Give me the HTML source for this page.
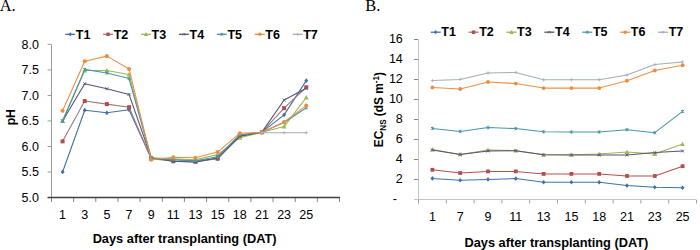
<!DOCTYPE html>
<html><head><meta charset="utf-8"><style>
html,body{margin:0;padding:0;background:#fff;width:700px;height:250px;overflow:hidden}
svg{display:block}
text{font-family:"Liberation Sans", sans-serif;fill:#000}
</style></head><body>
<svg width="700" height="250" viewBox="0 0 700 250">
<rect width="700" height="250" fill="#fff"/>
<path d="M51.5 44.4V202.0" stroke="#9A9A9A" stroke-width="1"/>
<path d="M47.6 197.50H51.0" stroke="#9A9A9A" stroke-width="1"/>
<text x="39" y="201.80" font-size="12.5" text-anchor="end">5.0</text>
<path d="M47.6 171.98H51.0" stroke="#9A9A9A" stroke-width="1"/>
<text x="39" y="176.28" font-size="12.5" text-anchor="end">5.5</text>
<path d="M47.6 146.47H51.0" stroke="#9A9A9A" stroke-width="1"/>
<text x="39" y="150.77" font-size="12.5" text-anchor="end">6.0</text>
<path d="M47.6 120.95H51.0" stroke="#9A9A9A" stroke-width="1"/>
<text x="39" y="125.25" font-size="12.5" text-anchor="end">6.5</text>
<path d="M47.6 95.43H51.0" stroke="#9A9A9A" stroke-width="1"/>
<text x="39" y="99.73" font-size="12.5" text-anchor="end">7.0</text>
<path d="M47.6 69.92H51.0" stroke="#9A9A9A" stroke-width="1"/>
<text x="39" y="74.22" font-size="12.5" text-anchor="end">7.5</text>
<path d="M47.6 44.40H51.0" stroke="#9A9A9A" stroke-width="1"/>
<text x="39" y="48.70" font-size="12.5" text-anchor="end">8.0</text>
<path d="M51.50 197.5V202.0" stroke="#868686" stroke-width="1"/>
<path d="M73.65 197.5V202.0" stroke="#868686" stroke-width="1"/>
<path d="M95.81 197.5V202.0" stroke="#868686" stroke-width="1"/>
<path d="M117.96 197.5V202.0" stroke="#868686" stroke-width="1"/>
<path d="M140.12 197.5V202.0" stroke="#868686" stroke-width="1"/>
<path d="M162.27 197.5V202.0" stroke="#868686" stroke-width="1"/>
<path d="M184.42 197.5V202.0" stroke="#868686" stroke-width="1"/>
<path d="M206.58 197.5V202.0" stroke="#868686" stroke-width="1"/>
<path d="M228.73 197.5V202.0" stroke="#868686" stroke-width="1"/>
<path d="M250.88 197.5V202.0" stroke="#868686" stroke-width="1"/>
<path d="M273.04 197.5V202.0" stroke="#868686" stroke-width="1"/>
<path d="M295.19 197.5V202.0" stroke="#868686" stroke-width="1"/>
<path d="M317.35 197.5V202.0" stroke="#868686" stroke-width="1"/>
<path d="M339.50 197.5V202.0" stroke="#868686" stroke-width="1"/>
<path d="M47.6 197.5H340" stroke="#404040" stroke-width="1.4"/>
<text x="62.58" y="219.3" font-size="12.5" text-anchor="middle">1</text>
<text x="84.73" y="219.3" font-size="12.5" text-anchor="middle">3</text>
<text x="106.88" y="219.3" font-size="12.5" text-anchor="middle">5</text>
<text x="129.04" y="219.3" font-size="12.5" text-anchor="middle">7</text>
<text x="151.19" y="219.3" font-size="12.5" text-anchor="middle">9</text>
<text x="173.35" y="219.3" font-size="12.5" text-anchor="middle">11</text>
<text x="195.50" y="219.3" font-size="12.5" text-anchor="middle">13</text>
<text x="217.65" y="219.3" font-size="12.5" text-anchor="middle">15</text>
<text x="239.81" y="219.3" font-size="12.5" text-anchor="middle">18</text>
<text x="261.96" y="219.3" font-size="12.5" text-anchor="middle">21</text>
<text x="284.12" y="219.3" font-size="12.5" text-anchor="middle">23</text>
<text x="306.27" y="219.3" font-size="12.5" text-anchor="middle">25</text>
<path d="M62.58 171.98L84.73 110.23L106.88 112.78L129.04 109.72L151.19 158.20L173.35 159.74L195.50 160.76L217.65 158.71L239.81 136.26L261.96 132.18L284.12 114.83L306.27 80.63" stroke="#4072A8" stroke-width="1.1" fill="none" stroke-linejoin="round"/>
<path d="M62.58 169.60L64.56 171.98L62.58 174.36L60.60 171.98Z" fill="#3F70A8"/>
<path d="M84.73 107.85L86.71 110.23L84.73 112.61L82.75 110.23Z" fill="#3F70A8"/>
<path d="M106.88 110.40L108.86 112.78L106.88 115.16L104.90 112.78Z" fill="#3F70A8"/>
<path d="M129.04 107.34L131.02 109.72L129.04 112.10L127.06 109.72Z" fill="#3F70A8"/>
<path d="M151.19 155.82L153.17 158.20L151.19 160.58L149.21 158.20Z" fill="#3F70A8"/>
<path d="M173.35 157.36L175.33 159.74L173.35 162.12L171.37 159.74Z" fill="#3F70A8"/>
<path d="M195.50 158.38L197.48 160.76L195.50 163.14L193.52 160.76Z" fill="#3F70A8"/>
<path d="M217.65 156.33L219.63 158.71L217.65 161.09L215.67 158.71Z" fill="#3F70A8"/>
<path d="M239.81 133.88L241.79 136.26L239.81 138.64L237.83 136.26Z" fill="#3F70A8"/>
<path d="M261.96 129.80L263.94 132.18L261.96 134.56L259.98 132.18Z" fill="#3F70A8"/>
<path d="M284.12 112.45L286.10 114.83L284.12 117.21L282.14 114.83Z" fill="#3F70A8"/>
<path d="M306.27 78.25L308.25 80.63L306.27 83.01L304.29 80.63Z" fill="#3F70A8"/>
<path d="M62.58 141.36L84.73 101.05L106.88 104.11L129.04 107.17L151.19 158.71L173.35 161.27L195.50 161.78L217.65 158.71L239.81 135.24L261.96 132.18L284.12 108.19L306.27 87.27" stroke="#A07880" stroke-width="1.1" fill="none" stroke-linejoin="round"/>
<rect x="60.58" y="139.36" width="4.00" height="4.00" fill="#B04E4C"/>
<rect x="82.73" y="99.05" width="4.00" height="4.00" fill="#B04E4C"/>
<rect x="104.88" y="102.11" width="4.00" height="4.00" fill="#B04E4C"/>
<rect x="127.04" y="105.17" width="4.00" height="4.00" fill="#B04E4C"/>
<rect x="149.19" y="156.71" width="4.00" height="4.00" fill="#B04E4C"/>
<rect x="171.35" y="159.27" width="4.00" height="4.00" fill="#B04E4C"/>
<rect x="193.50" y="159.78" width="4.00" height="4.00" fill="#B04E4C"/>
<rect x="215.65" y="156.71" width="4.00" height="4.00" fill="#B04E4C"/>
<rect x="237.81" y="133.24" width="4.00" height="4.00" fill="#B04E4C"/>
<rect x="259.96" y="130.18" width="4.00" height="4.00" fill="#B04E4C"/>
<rect x="282.12" y="106.19" width="4.00" height="4.00" fill="#B04E4C"/>
<rect x="304.27" y="85.27" width="4.00" height="4.00" fill="#B04E4C"/>
<path d="M62.58 120.95L84.73 70.43L106.88 70.43L129.04 74.51L151.19 157.69L173.35 158.71L195.50 159.74L217.65 154.63L239.81 137.79L261.96 132.18L284.12 126.56L306.27 97.47" stroke="#98B954" stroke-width="1.1" fill="none" stroke-linejoin="round"/>
<path d="M62.58 118.45L65.08 122.95L60.08 122.95Z" fill="#9BBB59"/>
<path d="M84.73 67.93L87.23 72.43L82.23 72.43Z" fill="#9BBB59"/>
<path d="M106.88 67.93L109.38 72.43L104.38 72.43Z" fill="#9BBB59"/>
<path d="M129.04 72.01L131.54 76.51L126.54 76.51Z" fill="#9BBB59"/>
<path d="M151.19 155.19L153.69 159.69L148.69 159.69Z" fill="#9BBB59"/>
<path d="M173.35 156.21L175.85 160.71L170.85 160.71Z" fill="#9BBB59"/>
<path d="M195.50 157.24L198.00 161.74L193.00 161.74Z" fill="#9BBB59"/>
<path d="M217.65 152.13L220.15 156.63L215.15 156.63Z" fill="#9BBB59"/>
<path d="M239.81 135.29L242.31 139.79L237.31 139.79Z" fill="#9BBB59"/>
<path d="M261.96 129.68L264.46 134.18L259.46 134.18Z" fill="#9BBB59"/>
<path d="M284.12 124.06L286.62 128.56L281.62 128.56Z" fill="#9BBB59"/>
<path d="M306.27 94.97L308.77 99.47L303.77 99.47Z" fill="#9BBB59"/>
<path d="M62.58 120.95L84.73 83.70L106.88 88.80L129.04 94.41L151.19 157.69L173.35 161.27L195.50 162.29L217.65 157.69L239.81 136.26L261.96 132.18L284.12 100.03L306.27 88.29" stroke="#5A5270" stroke-width="1.1" fill="none" stroke-linejoin="round"/>
<path d="M61.12 119.49L64.04 122.41M64.04 119.49L61.12 122.41" stroke="#625A7A" stroke-width="1" fill="none"/>
<path d="M83.27 82.24L86.19 85.16M86.19 82.24L83.27 85.16" stroke="#625A7A" stroke-width="1" fill="none"/>
<path d="M105.42 87.34L108.34 90.26M108.34 87.34L105.42 90.26" stroke="#625A7A" stroke-width="1" fill="none"/>
<path d="M127.58 92.95L130.50 95.87M130.50 92.95L127.58 95.87" stroke="#625A7A" stroke-width="1" fill="none"/>
<path d="M149.73 156.23L152.65 159.15M152.65 156.23L149.73 159.15" stroke="#625A7A" stroke-width="1" fill="none"/>
<path d="M171.89 159.81L174.81 162.73M174.81 159.81L171.89 162.73" stroke="#625A7A" stroke-width="1" fill="none"/>
<path d="M194.04 160.83L196.96 163.75M196.96 160.83L194.04 163.75" stroke="#625A7A" stroke-width="1" fill="none"/>
<path d="M216.19 156.23L219.11 159.15M219.11 156.23L216.19 159.15" stroke="#625A7A" stroke-width="1" fill="none"/>
<path d="M238.35 134.80L241.27 137.72M241.27 134.80L238.35 137.72" stroke="#625A7A" stroke-width="1" fill="none"/>
<path d="M260.50 130.72L263.42 133.64M263.42 130.72L260.50 133.64" stroke="#625A7A" stroke-width="1" fill="none"/>
<path d="M282.66 98.57L285.58 101.49M285.58 98.57L282.66 101.49" stroke="#625A7A" stroke-width="1" fill="none"/>
<path d="M304.81 86.83L307.73 89.75M307.73 86.83L304.81 89.75" stroke="#625A7A" stroke-width="1" fill="none"/>
<path d="M62.58 120.95L84.73 69.41L106.88 72.98L129.04 78.59L151.19 158.20L173.35 159.74L195.50 160.76L217.65 156.67L239.81 134.73L261.96 132.18L284.12 122.48L306.27 107.68" stroke="#4696AB" stroke-width="1.1" fill="none" stroke-linejoin="round"/>
<path d="M61.12 119.49L64.04 122.41M64.04 119.49L61.12 122.41M62.58 119.19V122.71" stroke="#4696AB" stroke-width="1" fill="none"/>
<path d="M83.27 67.95L86.19 70.87M86.19 67.95L83.27 70.87M84.73 67.65V71.17" stroke="#4696AB" stroke-width="1" fill="none"/>
<path d="M105.42 71.52L108.34 74.44M108.34 71.52L105.42 74.44M106.88 71.22V74.74" stroke="#4696AB" stroke-width="1" fill="none"/>
<path d="M127.58 77.13L130.50 80.05M130.50 77.13L127.58 80.05M129.04 76.83V80.35" stroke="#4696AB" stroke-width="1" fill="none"/>
<path d="M149.73 156.74L152.65 159.66M152.65 156.74L149.73 159.66M151.19 156.44V159.96" stroke="#4696AB" stroke-width="1" fill="none"/>
<path d="M171.89 158.28L174.81 161.20M174.81 158.28L171.89 161.20M173.35 157.98V161.50" stroke="#4696AB" stroke-width="1" fill="none"/>
<path d="M194.04 159.30L196.96 162.22M196.96 159.30L194.04 162.22M195.50 159.00V162.52" stroke="#4696AB" stroke-width="1" fill="none"/>
<path d="M216.19 155.21L219.11 158.13M219.11 155.21L216.19 158.13M217.65 154.91V158.43" stroke="#4696AB" stroke-width="1" fill="none"/>
<path d="M238.35 133.27L241.27 136.19M241.27 133.27L238.35 136.19M239.81 132.97V136.49" stroke="#4696AB" stroke-width="1" fill="none"/>
<path d="M260.50 130.72L263.42 133.64M263.42 130.72L260.50 133.64M261.96 130.42V133.94" stroke="#4696AB" stroke-width="1" fill="none"/>
<path d="M282.66 121.02L285.58 123.94M285.58 121.02L282.66 123.94M284.12 120.72V124.24" stroke="#4696AB" stroke-width="1" fill="none"/>
<path d="M304.81 106.22L307.73 109.14M307.73 106.22L304.81 109.14M306.27 105.92V109.44" stroke="#4696AB" stroke-width="1" fill="none"/>
<path d="M62.58 110.74L84.73 61.24L106.88 56.14L129.04 68.90L151.19 159.74L173.35 157.18L195.50 157.69L217.65 152.08L239.81 133.20L261.96 132.18L284.12 121.97L306.27 105.64" stroke="#EE9044" stroke-width="1.1" fill="none" stroke-linejoin="round"/>
<circle cx="62.58" cy="110.74" r="2.02" fill="#EC8D3E"/>
<circle cx="84.73" cy="61.24" r="2.02" fill="#EC8D3E"/>
<circle cx="106.88" cy="56.14" r="2.02" fill="#EC8D3E"/>
<circle cx="129.04" cy="68.90" r="2.02" fill="#EC8D3E"/>
<circle cx="151.19" cy="159.74" r="2.02" fill="#EC8D3E"/>
<circle cx="173.35" cy="157.18" r="2.02" fill="#EC8D3E"/>
<circle cx="195.50" cy="157.69" r="2.02" fill="#EC8D3E"/>
<circle cx="217.65" cy="152.08" r="2.02" fill="#EC8D3E"/>
<circle cx="239.81" cy="133.20" r="2.02" fill="#EC8D3E"/>
<circle cx="261.96" cy="132.18" r="2.02" fill="#EC8D3E"/>
<circle cx="284.12" cy="121.97" r="2.02" fill="#EC8D3E"/>
<circle cx="306.27" cy="105.64" r="2.02" fill="#EC8D3E"/>
<path d="M261.96 132.69L284.12 132.69L306.27 132.69" stroke="#A3ADBC" stroke-width="1.1" fill="none" stroke-linejoin="round"/>
<path d="M260.20 132.69H263.72M261.96 130.93V134.45" stroke="#A3ADBC" stroke-width="0.8" fill="none"/>
<path d="M282.36 132.69H285.88M284.12 130.93V134.45" stroke="#A3ADBC" stroke-width="0.8" fill="none"/>
<path d="M304.51 132.69H308.03M306.27 130.93V134.45" stroke="#A3ADBC" stroke-width="0.8" fill="none"/>
<path d="M65.20 34.3H75.20" stroke="#4072A8" stroke-width="1.3"/>
<path d="M70.20 32.19L71.91 34.30L70.20 36.41L68.49 34.30Z" fill="#3F70A8"/>
<text x="75.80" y="38.6" font-size="12.5" font-weight="bold">T1</text>
<path d="M103.10 34.3H113.10" stroke="#A07880" stroke-width="1.3"/>
<rect x="106.40" y="32.60" width="3.40" height="3.40" fill="#B04E4C"/>
<text x="113.70" y="38.6" font-size="12.5" font-weight="bold">T2</text>
<path d="M141.00 34.3H151.00" stroke="#98B954" stroke-width="1.3"/>
<path d="M146.00 32.10L148.20 36.00L143.80 36.00Z" fill="#9BBB59"/>
<text x="151.60" y="38.6" font-size="12.5" font-weight="bold">T3</text>
<path d="M178.90 34.3H188.90" stroke="#5A5270" stroke-width="1.3"/>
<path d="M182.68 33.08L185.12 35.52M185.12 33.08L182.68 35.52" stroke="#625A7A" stroke-width="1" fill="none"/>
<text x="189.50" y="38.6" font-size="12.5" font-weight="bold">T4</text>
<path d="M216.80 34.3H226.80" stroke="#4696AB" stroke-width="1.3"/>
<path d="M220.58 33.08L223.02 35.52M223.02 33.08L220.58 35.52M221.80 32.78V35.82" stroke="#4696AB" stroke-width="1" fill="none"/>
<text x="227.40" y="38.6" font-size="12.5" font-weight="bold">T5</text>
<path d="M254.70 34.3H264.70" stroke="#EE9044" stroke-width="1.3"/>
<circle cx="259.70" cy="34.30" r="1.75" fill="#EC8D3E"/>
<text x="265.30" y="38.6" font-size="12.5" font-weight="bold">T6</text>
<path d="M292.60 34.3H302.60" stroke="#A3ADBC" stroke-width="1.3"/>
<path d="M296.08 34.30H299.12M297.60 32.78V35.82" stroke="#A3ADBC" stroke-width="0.8" fill="none"/>
<text x="303.20" y="38.6" font-size="12.5" font-weight="bold">T7</text>
<text x="184.6" y="243" font-size="12.8" font-weight="bold" text-anchor="middle">Days after transplanting (DAT)</text>
<text transform="translate(14.8,117.2) rotate(-90)" font-size="12.2" font-weight="bold" text-anchor="middle">pH</text>
<text x="-0.3" y="11.2" style="font-family:'Liberation Serif', serif" font-size="16.5">A.</text>
<path d="M418.5 39.4V203.5" stroke="#C4C4C4" stroke-width="1"/>
<path d="M414 199.50H418.0" stroke="#858585" stroke-width="1"/>
<text x="397" y="203.20" font-size="12.5" text-anchor="end">-</text>
<path d="M414 179.50H418.0" stroke="#858585" stroke-width="1"/>
<text x="402.8" y="183.20" font-size="12.5" text-anchor="end">2</text>
<path d="M414 159.50H418.0" stroke="#858585" stroke-width="1"/>
<text x="402.8" y="163.20" font-size="12.5" text-anchor="end">4</text>
<path d="M414 139.50H418.0" stroke="#858585" stroke-width="1"/>
<text x="402.8" y="143.20" font-size="12.5" text-anchor="end">6</text>
<path d="M414 119.50H418.0" stroke="#858585" stroke-width="1"/>
<text x="402.8" y="123.20" font-size="12.5" text-anchor="end">8</text>
<path d="M414 99.50H418.0" stroke="#858585" stroke-width="1"/>
<text x="402.8" y="103.20" font-size="12.5" text-anchor="end">10</text>
<path d="M414 79.50H418.0" stroke="#858585" stroke-width="1"/>
<text x="402.8" y="83.20" font-size="12.5" text-anchor="end">12</text>
<path d="M414 59.50H418.0" stroke="#858585" stroke-width="1"/>
<text x="402.8" y="63.20" font-size="12.5" text-anchor="end">14</text>
<path d="M414 39.50H418.0" stroke="#858585" stroke-width="1"/>
<text x="402.8" y="43.20" font-size="12.5" text-anchor="end">16</text>
<path d="M418.50 200.0V203.5" stroke="#A0A0A0" stroke-width="1"/>
<path d="M446.30 200.0V203.5" stroke="#A0A0A0" stroke-width="1"/>
<path d="M474.10 200.0V203.5" stroke="#A0A0A0" stroke-width="1"/>
<path d="M501.90 200.0V203.5" stroke="#A0A0A0" stroke-width="1"/>
<path d="M529.70 200.0V203.5" stroke="#A0A0A0" stroke-width="1"/>
<path d="M557.50 200.0V203.5" stroke="#A0A0A0" stroke-width="1"/>
<path d="M585.30 200.0V203.5" stroke="#A0A0A0" stroke-width="1"/>
<path d="M613.10 200.0V203.5" stroke="#A0A0A0" stroke-width="1"/>
<path d="M640.90 200.0V203.5" stroke="#A0A0A0" stroke-width="1"/>
<path d="M668.70 200.0V203.5" stroke="#A0A0A0" stroke-width="1"/>
<path d="M696.50 200.0V203.5" stroke="#A0A0A0" stroke-width="1"/>
<path d="M414 199.5H696.5" stroke="#C4C4C4" stroke-width="1"/>
<text x="432.40" y="220.7" font-size="12.5" text-anchor="middle">1</text>
<text x="460.20" y="220.7" font-size="12.5" text-anchor="middle">7</text>
<text x="488.00" y="220.7" font-size="12.5" text-anchor="middle">9</text>
<text x="515.80" y="220.7" font-size="12.5" text-anchor="middle">11</text>
<text x="543.60" y="220.7" font-size="12.5" text-anchor="middle">13</text>
<text x="571.40" y="220.7" font-size="12.5" text-anchor="middle">15</text>
<text x="599.20" y="220.7" font-size="12.5" text-anchor="middle">18</text>
<text x="627.00" y="220.7" font-size="12.5" text-anchor="middle">21</text>
<text x="654.80" y="220.7" font-size="12.5" text-anchor="middle">23</text>
<text x="682.60" y="220.7" font-size="12.5" text-anchor="middle">25</text>
<path d="M432.40 178.40L460.20 180.20L488.00 179.40L515.80 178.60L543.60 182.30L571.40 182.30L599.20 182.30L627.00 185.60L654.80 187.20L682.60 187.70" stroke="#4072A8" stroke-width="1.05" fill="none" stroke-linejoin="round"/>
<path d="M432.40 176.11L434.29 178.40L432.40 180.69L430.51 178.40Z" fill="#3F70A8"/>
<path d="M460.20 177.91L462.09 180.20L460.20 182.49L458.31 180.20Z" fill="#3F70A8"/>
<path d="M488.00 177.11L489.89 179.40L488.00 181.69L486.11 179.40Z" fill="#3F70A8"/>
<path d="M515.80 176.31L517.69 178.60L515.80 180.89L513.91 178.60Z" fill="#3F70A8"/>
<path d="M543.60 180.01L545.49 182.30L543.60 184.59L541.71 182.30Z" fill="#3F70A8"/>
<path d="M571.40 180.01L573.29 182.30L571.40 184.59L569.51 182.30Z" fill="#3F70A8"/>
<path d="M599.20 180.01L601.09 182.30L599.20 184.59L597.31 182.30Z" fill="#3F70A8"/>
<path d="M627.00 183.31L628.89 185.60L627.00 187.89L625.11 185.60Z" fill="#3F70A8"/>
<path d="M654.80 184.91L656.69 187.20L654.80 189.49L652.91 187.20Z" fill="#3F70A8"/>
<path d="M682.60 185.41L684.49 187.70L682.60 189.99L680.71 187.70Z" fill="#3F70A8"/>
<path d="M432.40 169.80L460.20 173.00L488.00 171.40L515.80 171.40L543.60 173.90L571.40 173.90L599.20 173.90L627.00 176.00L654.80 176.00L682.60 166.20" stroke="#B5504E" stroke-width="1.05" fill="none" stroke-linejoin="round"/>
<rect x="430.50" y="167.90" width="3.80" height="3.80" fill="#B04E4C"/>
<rect x="458.30" y="171.10" width="3.80" height="3.80" fill="#B04E4C"/>
<rect x="486.10" y="169.50" width="3.80" height="3.80" fill="#B04E4C"/>
<rect x="513.90" y="169.50" width="3.80" height="3.80" fill="#B04E4C"/>
<rect x="541.70" y="172.00" width="3.80" height="3.80" fill="#B04E4C"/>
<rect x="569.50" y="172.00" width="3.80" height="3.80" fill="#B04E4C"/>
<rect x="597.30" y="172.00" width="3.80" height="3.80" fill="#B04E4C"/>
<rect x="625.10" y="174.10" width="3.80" height="3.80" fill="#B04E4C"/>
<rect x="652.90" y="174.10" width="3.80" height="3.80" fill="#B04E4C"/>
<rect x="680.70" y="164.30" width="3.80" height="3.80" fill="#B04E4C"/>
<path d="M432.40 149.50L460.20 154.40L488.00 150.00L515.80 150.70L543.60 154.80L571.40 154.80L599.20 154.00L627.00 152.10L654.80 154.00L682.60 144.10" stroke="#98B954" stroke-width="1.05" fill="none" stroke-linejoin="round"/>
<path d="M432.40 147.10L434.80 151.40L430.00 151.40Z" fill="#9BBB59"/>
<path d="M460.20 152.00L462.60 156.30L457.80 156.30Z" fill="#9BBB59"/>
<path d="M488.00 147.60L490.40 151.90L485.60 151.90Z" fill="#9BBB59"/>
<path d="M515.80 148.30L518.20 152.60L513.40 152.60Z" fill="#9BBB59"/>
<path d="M543.60 152.40L546.00 156.70L541.20 156.70Z" fill="#9BBB59"/>
<path d="M571.40 152.40L573.80 156.70L569.00 156.70Z" fill="#9BBB59"/>
<path d="M599.20 151.60L601.60 155.90L596.80 155.90Z" fill="#9BBB59"/>
<path d="M627.00 149.70L629.40 154.00L624.60 154.00Z" fill="#9BBB59"/>
<path d="M654.80 151.60L657.20 155.90L652.40 155.90Z" fill="#9BBB59"/>
<path d="M682.60 141.70L685.00 146.00L680.20 146.00Z" fill="#9BBB59"/>
<path d="M432.40 150.00L460.20 154.40L488.00 151.00L515.80 150.70L543.60 154.80L571.40 154.90L599.20 154.90L627.00 155.00L654.80 152.60L682.60 151.00" stroke="#5A5270" stroke-width="1.05" fill="none" stroke-linejoin="round"/>
<path d="M431.02 148.62L433.78 151.38M433.78 148.62L431.02 151.38" stroke="#625A7A" stroke-width="1" fill="none"/>
<path d="M458.82 153.02L461.58 155.78M461.58 153.02L458.82 155.78" stroke="#625A7A" stroke-width="1" fill="none"/>
<path d="M486.62 149.62L489.38 152.38M489.38 149.62L486.62 152.38" stroke="#625A7A" stroke-width="1" fill="none"/>
<path d="M514.42 149.32L517.18 152.08M517.18 149.32L514.42 152.08" stroke="#625A7A" stroke-width="1" fill="none"/>
<path d="M542.22 153.42L544.98 156.18M544.98 153.42L542.22 156.18" stroke="#625A7A" stroke-width="1" fill="none"/>
<path d="M570.02 153.52L572.78 156.28M572.78 153.52L570.02 156.28" stroke="#625A7A" stroke-width="1" fill="none"/>
<path d="M597.82 153.52L600.58 156.28M600.58 153.52L597.82 156.28" stroke="#625A7A" stroke-width="1" fill="none"/>
<path d="M625.62 153.62L628.38 156.38M628.38 153.62L625.62 156.38" stroke="#625A7A" stroke-width="1" fill="none"/>
<path d="M653.42 151.22L656.18 153.98M656.18 151.22L653.42 153.98" stroke="#625A7A" stroke-width="1" fill="none"/>
<path d="M681.22 149.62L683.98 152.38M683.98 149.62L681.22 152.38" stroke="#625A7A" stroke-width="1" fill="none"/>
<path d="M432.40 128.40L460.20 131.40L488.00 127.60L515.80 128.60L543.60 131.80L571.40 132.00L599.20 132.00L627.00 129.70L654.80 132.70L682.60 111.40" stroke="#4696AB" stroke-width="1.05" fill="none" stroke-linejoin="round"/>
<path d="M431.02 127.02L433.78 129.78M433.78 127.02L431.02 129.78M432.40 126.72V130.08" stroke="#4696AB" stroke-width="1" fill="none"/>
<path d="M458.82 130.02L461.58 132.78M461.58 130.02L458.82 132.78M460.20 129.72V133.08" stroke="#4696AB" stroke-width="1" fill="none"/>
<path d="M486.62 126.22L489.38 128.98M489.38 126.22L486.62 128.98M488.00 125.92V129.28" stroke="#4696AB" stroke-width="1" fill="none"/>
<path d="M514.42 127.22L517.18 129.98M517.18 127.22L514.42 129.98M515.80 126.92V130.28" stroke="#4696AB" stroke-width="1" fill="none"/>
<path d="M542.22 130.42L544.98 133.18M544.98 130.42L542.22 133.18M543.60 130.12V133.48" stroke="#4696AB" stroke-width="1" fill="none"/>
<path d="M570.02 130.62L572.78 133.38M572.78 130.62L570.02 133.38M571.40 130.32V133.68" stroke="#4696AB" stroke-width="1" fill="none"/>
<path d="M597.82 130.62L600.58 133.38M600.58 130.62L597.82 133.38M599.20 130.32V133.68" stroke="#4696AB" stroke-width="1" fill="none"/>
<path d="M625.62 128.32L628.38 131.08M628.38 128.32L625.62 131.08M627.00 128.02V131.38" stroke="#4696AB" stroke-width="1" fill="none"/>
<path d="M653.42 131.32L656.18 134.08M656.18 131.32L653.42 134.08M654.80 131.02V134.38" stroke="#4696AB" stroke-width="1" fill="none"/>
<path d="M681.22 110.02L683.98 112.78M683.98 110.02L681.22 112.78M682.60 109.72V113.08" stroke="#4696AB" stroke-width="1" fill="none"/>
<path d="M432.40 87.40L460.20 89.00L488.00 82.00L515.80 83.60L543.60 88.10L571.40 88.10L599.20 88.10L627.00 80.80L654.80 70.50L682.60 65.30" stroke="#EE9044" stroke-width="1.05" fill="none" stroke-linejoin="round"/>
<circle cx="432.40" cy="87.40" r="1.93" fill="#EC8D3E"/>
<circle cx="460.20" cy="89.00" r="1.93" fill="#EC8D3E"/>
<circle cx="488.00" cy="82.00" r="1.93" fill="#EC8D3E"/>
<circle cx="515.80" cy="83.60" r="1.93" fill="#EC8D3E"/>
<circle cx="543.60" cy="88.10" r="1.93" fill="#EC8D3E"/>
<circle cx="571.40" cy="88.10" r="1.93" fill="#EC8D3E"/>
<circle cx="599.20" cy="88.10" r="1.93" fill="#EC8D3E"/>
<circle cx="627.00" cy="80.80" r="1.93" fill="#EC8D3E"/>
<circle cx="654.80" cy="70.50" r="1.93" fill="#EC8D3E"/>
<circle cx="682.60" cy="65.30" r="1.93" fill="#EC8D3E"/>
<path d="M432.40 80.60L460.20 79.40L488.00 73.00L515.80 72.40L543.60 79.80L571.40 79.70L599.20 79.70L627.00 74.90L654.80 64.60L682.60 61.90" stroke="#A3ADBC" stroke-width="1.05" fill="none" stroke-linejoin="round"/>
<path d="M430.72 80.60H434.08M432.40 78.92V82.28" stroke="#A3ADBC" stroke-width="0.8" fill="none"/>
<path d="M458.52 79.40H461.88M460.20 77.72V81.08" stroke="#A3ADBC" stroke-width="0.8" fill="none"/>
<path d="M486.32 73.00H489.68M488.00 71.32V74.68" stroke="#A3ADBC" stroke-width="0.8" fill="none"/>
<path d="M514.12 72.40H517.48M515.80 70.72V74.08" stroke="#A3ADBC" stroke-width="0.8" fill="none"/>
<path d="M541.92 79.80H545.28M543.60 78.12V81.48" stroke="#A3ADBC" stroke-width="0.8" fill="none"/>
<path d="M569.72 79.70H573.08M571.40 78.02V81.38" stroke="#A3ADBC" stroke-width="0.8" fill="none"/>
<path d="M597.52 79.70H600.88M599.20 78.02V81.38" stroke="#A3ADBC" stroke-width="0.8" fill="none"/>
<path d="M625.32 74.90H628.68M627.00 73.22V76.58" stroke="#A3ADBC" stroke-width="0.8" fill="none"/>
<path d="M653.12 64.60H656.48M654.80 62.92V66.28" stroke="#A3ADBC" stroke-width="0.8" fill="none"/>
<path d="M680.92 61.90H684.28M682.60 60.22V63.58" stroke="#A3ADBC" stroke-width="0.8" fill="none"/>
<path d="M430.70 32.2H440.70" stroke="#4072A8" stroke-width="1.3"/>
<path d="M435.70 30.09L437.41 32.20L435.70 34.31L433.99 32.20Z" fill="#3F70A8"/>
<text x="441.30" y="36.4" font-size="12.5" font-weight="bold">T1</text>
<path d="M468.60 32.2H478.60" stroke="#A07880" stroke-width="1.3"/>
<rect x="471.90" y="30.50" width="3.40" height="3.40" fill="#B04E4C"/>
<text x="479.20" y="36.4" font-size="12.5" font-weight="bold">T2</text>
<path d="M506.50 32.2H516.50" stroke="#98B954" stroke-width="1.3"/>
<path d="M511.50 30.00L513.70 33.90L509.30 33.90Z" fill="#9BBB59"/>
<text x="517.10" y="36.4" font-size="12.5" font-weight="bold">T3</text>
<path d="M544.40 32.2H554.40" stroke="#5A5270" stroke-width="1.3"/>
<path d="M548.18 30.98L550.62 33.42M550.62 30.98L548.18 33.42" stroke="#625A7A" stroke-width="1" fill="none"/>
<text x="555.00" y="36.4" font-size="12.5" font-weight="bold">T4</text>
<path d="M582.30 32.2H592.30" stroke="#4696AB" stroke-width="1.3"/>
<path d="M586.08 30.98L588.52 33.42M588.52 30.98L586.08 33.42M587.30 30.68V33.72" stroke="#4696AB" stroke-width="1" fill="none"/>
<text x="592.90" y="36.4" font-size="12.5" font-weight="bold">T5</text>
<path d="M620.20 32.2H630.20" stroke="#EE9044" stroke-width="1.3"/>
<circle cx="625.20" cy="32.20" r="1.75" fill="#EC8D3E"/>
<text x="630.80" y="36.4" font-size="12.5" font-weight="bold">T6</text>
<path d="M658.10 32.2H668.10" stroke="#A3ADBC" stroke-width="1.3"/>
<path d="M661.58 32.20H664.62M663.10 30.68V33.72" stroke="#A3ADBC" stroke-width="0.8" fill="none"/>
<text x="668.70" y="36.4" font-size="12.5" font-weight="bold">T7</text>
<text x="556.4" y="246.5" font-size="12.8" font-weight="bold" text-anchor="middle">Days after transplanting (DAT)</text>
<text transform="translate(382.6,109.6) rotate(-90) scale(0.95,1)" font-size="12.5" font-weight="bold" text-anchor="middle">EC<tspan font-size="8.5" dy="3">NS</tspan><tspan dy="-3"> (dS m</tspan><tspan font-size="8.5" dy="-4">-1</tspan><tspan dy="4">)</tspan></text>
<text x="365.2" y="11.2" style="font-family:'Liberation Serif', serif" font-size="16.5">B.</text>
</svg>
</body></html>
